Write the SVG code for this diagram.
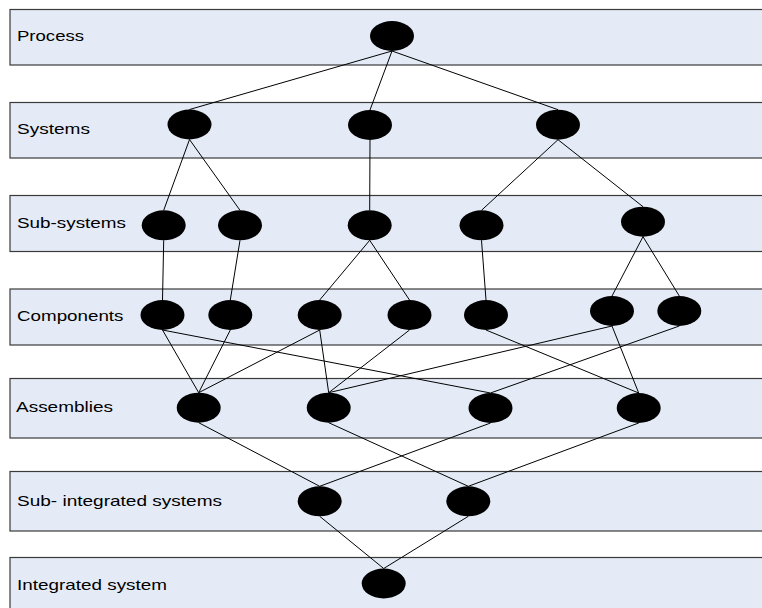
<svg xmlns="http://www.w3.org/2000/svg" width="762" height="608" viewBox="0 0 762 608">
  <style>
    .band { fill: #E4EBF6; stroke: #3a3a3a; stroke-width: 1.2; }
    .label { font-family: "Liberation Sans", Arial, sans-serif; font-size: 15px; fill: #000; }
    .node { fill: #000; }
    .edge { stroke: #000; stroke-width: 1; fill: none; }
  </style>

  <!-- horizontal level bands -->
  <g id="levels">
    <g id="level-process">
      <rect class="band" x="10" y="9.5" width="760" height="55.5"/>
      <text class="label" x="17" y="41" textLength="67" lengthAdjust="spacingAndGlyphs">Process</text>
    </g>
    <g id="level-systems">
      <rect class="band" x="10" y="102.5" width="760" height="55.5"/>
      <text class="label" x="17" y="134" textLength="73" lengthAdjust="spacingAndGlyphs">Systems</text>
    </g>
    <g id="level-subsystems">
      <rect class="band" x="10" y="195.5" width="760" height="56"/>
      <text class="label" x="17" y="227.5" textLength="109" lengthAdjust="spacingAndGlyphs">Sub-systems</text>
    </g>
    <g id="level-components">
      <rect class="band" x="10" y="289" width="760" height="56"/>
      <text class="label" x="17" y="320.5" textLength="106.5" lengthAdjust="spacingAndGlyphs">Components</text>
    </g>
    <g id="level-assemblies">
      <rect class="band" x="10" y="378.5" width="760" height="59.5"/>
      <text class="label" x="16" y="412" textLength="97" lengthAdjust="spacingAndGlyphs">Assemblies</text>
    </g>
    <g id="level-subintegrated">
      <rect class="band" x="10" y="471.5" width="760" height="59.5"/>
      <text class="label" x="17" y="506" textLength="205" lengthAdjust="spacingAndGlyphs">Sub- integrated systems</text>
    </g>
    <g id="level-integrated">
      <rect class="band" x="10" y="557.5" width="760" height="60"/>
      <text class="label" x="17" y="590" textLength="150" lengthAdjust="spacingAndGlyphs">Integrated system</text>
    </g>
  </g>

  <!-- connectors: parent bottom to child top -->
  <g id="connectors">
    <line class="edge" x1="392" y1="51" x2="189.5" y2="109.5"/>
    <line class="edge" x1="392" y1="51" x2="370" y2="110"/>
    <line class="edge" x1="392" y1="51" x2="558" y2="109.7"/>

    <line class="edge" x1="189.5" y1="139.5" x2="163.7" y2="210.3"/>
    <line class="edge" x1="189.5" y1="139.5" x2="240" y2="210.3"/>
    <line class="edge" x1="370" y1="140" x2="369.7" y2="210.3"/>
    <line class="edge" x1="558" y1="139.7" x2="481.5" y2="210.3"/>
    <line class="edge" x1="558" y1="139.7" x2="643" y2="206.7"/>

    <line class="edge" x1="163.7" y1="240.3" x2="162.5" y2="300"/>
    <line class="edge" x1="240" y1="240.3" x2="230.3" y2="300"/>
    <line class="edge" x1="369.7" y1="240.3" x2="319.7" y2="300"/>
    <line class="edge" x1="369.7" y1="240.3" x2="409.5" y2="300"/>
    <line class="edge" x1="481.5" y1="240.3" x2="486" y2="300"/>
    <line class="edge" x1="643" y1="236.7" x2="612" y2="296"/>
    <line class="edge" x1="643" y1="236.7" x2="679.3" y2="296"/>

    <line class="edge" x1="162.5" y1="330" x2="198.7" y2="392.7"/>
    <line class="edge" x1="162.5" y1="330" x2="490.5" y2="393"/>
    <line class="edge" x1="230.3" y1="330" x2="198.7" y2="392.7"/>
    <line class="edge" x1="319.7" y1="330" x2="198.7" y2="392.7"/>
    <line class="edge" x1="319.7" y1="330" x2="328.7" y2="392.7"/>
    <line class="edge" x1="409.5" y1="330" x2="328.7" y2="392.7"/>
    <line class="edge" x1="486" y1="330" x2="638.7" y2="393"/>
    <line class="edge" x1="612" y1="326" x2="328.7" y2="392.7"/>
    <line class="edge" x1="612" y1="326" x2="638.7" y2="393"/>
    <line class="edge" x1="679.3" y1="326" x2="490.5" y2="393"/>

    <line class="edge" x1="198.7" y1="422.7" x2="319.7" y2="486.3"/>
    <line class="edge" x1="490.5" y1="423" x2="319.7" y2="486.3"/>
    <line class="edge" x1="328.7" y1="422.7" x2="468.3" y2="486.3"/>
    <line class="edge" x1="638.7" y1="423" x2="468.3" y2="486.3"/>

    <line class="edge" x1="319.7" y1="516.3" x2="383.7" y2="568.5"/>
    <line class="edge" x1="468.3" y1="516.3" x2="383.7" y2="568.5"/>
  </g>

  <!-- nodes -->
  <g id="process"><ellipse class="node" cx="392" cy="36" rx="22" ry="15"/></g>

  <g id="system-1"><ellipse class="node" cx="189.5" cy="124.5" rx="22" ry="15"/></g>
  <g id="system-2"><ellipse class="node" cx="370" cy="125" rx="22" ry="15"/></g>
  <g id="system-3"><ellipse class="node" cx="558" cy="124.7" rx="22" ry="15"/></g>

  <g id="subsystem-1"><ellipse class="node" cx="163.7" cy="225.3" rx="22" ry="15"/></g>
  <g id="subsystem-2"><ellipse class="node" cx="240" cy="225.3" rx="22" ry="15"/></g>
  <g id="subsystem-3"><ellipse class="node" cx="369.7" cy="225.3" rx="22" ry="15"/></g>
  <g id="subsystem-4"><ellipse class="node" cx="481.5" cy="225.3" rx="22" ry="15"/></g>
  <g id="subsystem-5"><ellipse class="node" cx="643" cy="221.7" rx="22" ry="15"/></g>

  <g id="component-1"><ellipse class="node" cx="162.5" cy="315" rx="22" ry="15"/></g>
  <g id="component-2"><ellipse class="node" cx="230.3" cy="315" rx="22" ry="15"/></g>
  <g id="component-3"><ellipse class="node" cx="319.7" cy="315" rx="22" ry="15"/></g>
  <g id="component-4"><ellipse class="node" cx="409.5" cy="315" rx="22" ry="15"/></g>
  <g id="component-5"><ellipse class="node" cx="486" cy="315" rx="22" ry="15"/></g>
  <g id="component-6"><ellipse class="node" cx="612" cy="311" rx="22" ry="15"/></g>
  <g id="component-7"><ellipse class="node" cx="679.3" cy="311" rx="22" ry="15"/></g>

  <g id="assembly-1"><ellipse class="node" cx="198.7" cy="407.7" rx="22" ry="15"/></g>
  <g id="assembly-2"><ellipse class="node" cx="328.7" cy="407.7" rx="22" ry="15"/></g>
  <g id="assembly-3"><ellipse class="node" cx="490.5" cy="408" rx="22" ry="15"/></g>
  <g id="assembly-4"><ellipse class="node" cx="638.7" cy="408" rx="22" ry="15"/></g>

  <g id="subintegrated-1"><ellipse class="node" cx="319.7" cy="501.3" rx="22" ry="15"/></g>
  <g id="subintegrated-2"><ellipse class="node" cx="468.3" cy="501.3" rx="22" ry="15"/></g>

  <g id="integrated"><ellipse class="node" cx="383.7" cy="583.5" rx="22" ry="15"/></g>
</svg>
